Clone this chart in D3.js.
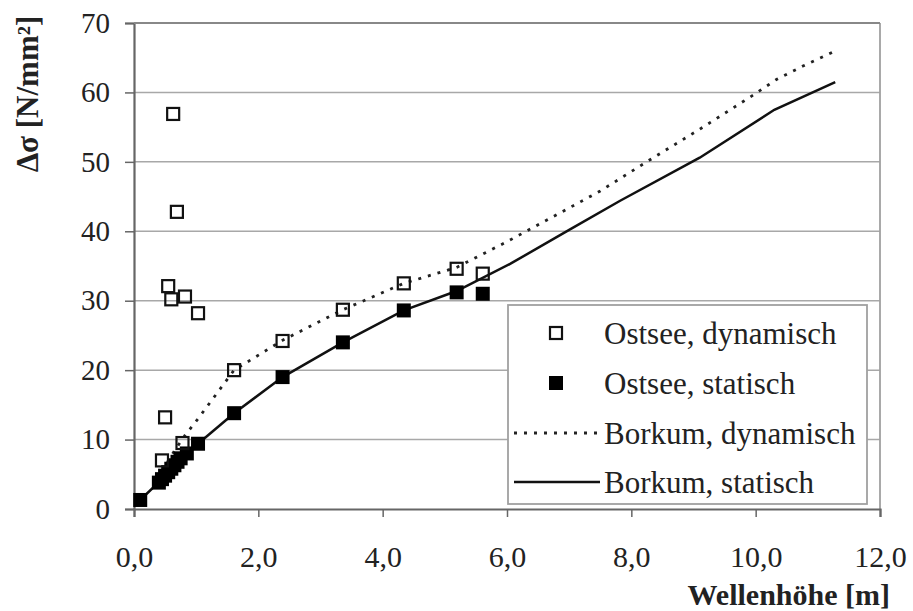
<!DOCTYPE html>
<html>
<head>
<meta charset="utf-8">
<script src="https://cdn.jsdelivr.net/npm/d3@7"></script>
<style>
  html, body { margin: 0; padding: 0; background: #fff; }
  svg { display: block; }
  text { font-family: "Liberation Serif", "Times New Roman", serif; fill: #222; }
</style>
</head>
<body>
<script>
// ---- data ----
const xTicks = [0, 2, 4, 6, 8, 10, 12];
const xTickLabels = ["0,0", "2,0", "4,0", "6,0", "8,0", "10,0", "12,0"];
const yTicks = [0, 10, 20, 30, 40, 50, 60, 70];
const yTickLabels = ["0", "10", "20", "30", "40", "50", "60", "70"];

const ostseeDynamisch = [
  [0.45, 7.0], [0.50, 13.2], [0.55, 32.1], [0.60, 30.2], [0.63, 56.9],
  [0.69, 42.8], [0.78, 9.5], [0.82, 30.6], [1.03, 28.2], [1.61, 20.0],
  [2.39, 24.2], [3.36, 28.7], [4.34, 32.5], [5.19, 34.6], [5.61, 33.9]
];
const ostseeStatisch = [
  [0.10, 1.3], [0.40, 3.8], [0.45, 4.3], [0.50, 4.8], [0.55, 5.3],
  [0.60, 5.8], [0.65, 6.3], [0.70, 6.8], [0.75, 7.3], [0.85, 8.0],
  [1.03, 9.4], [1.61, 13.8], [2.39, 19.0], [3.36, 24.0], [4.34, 28.6],
  [5.19, 31.2], [5.61, 31.0]
];
const borkumDynamisch = [
  [0.45, 5.5], [0.66, 8.5], [0.82, 10.6], [1.03, 13.0], [1.61, 20.0],
  [2.39, 24.3], [3.36, 28.7], [4.34, 32.5], [5.19, 34.8], [6.0, 38.5],
  [7.5, 45.8], [8.3, 50.3], [9.1, 54.7], [9.94, 59.5], [10.34, 61.9],
  [10.76, 63.8], [11.24, 65.8]
];
const borkumStatisch = [
  [0.10, 1.3], [0.45, 4.3], [0.75, 7.3], [1.03, 9.4], [1.61, 13.8],
  [2.39, 19.0], [3.36, 24.0], [4.34, 28.6], [5.19, 31.4], [6.05, 35.3],
  [7.0, 40.2], [7.82, 44.4], [9.1, 50.6], [10.3, 57.5], [11.28, 61.5]
];
const legendLabels = ["Ostsee, dynamisch", "Ostsee, statisch", "Borkum, dynamisch", "Borkum, statisch"];
const xTitle = "Wellenhöhe [m]";
const yTitle = "Δσ [N/mm²]";

// ---- layout ----
const W = 913, H = 611;
const L = 134, R = 880, T = 23, B = 509;

const svg = d3.select("body").append("svg").attr("width", W).attr("height", H);

const x = d3.scaleLinear().domain([0, 12]).range([L, R]);
const y = d3.scaleLinear().domain([0, 70]).range([B, T]);

// gridlines
svg.append("g").selectAll("line").data(yTicks.filter(d => d > 0)).join("line")
  .attr("x1", L).attr("x2", R)
  .attr("y1", d => y(d)).attr("y2", d => y(d))
  .attr("stroke", "#a8a8a8").attr("stroke-width", 1.5);

// right border
svg.append("line").attr("x1", R).attr("x2", R).attr("y1", T).attr("y2", B)
  .attr("stroke", "#a0a0a0").attr("stroke-width", 1.8);

// axes
const xAxis = d3.axisBottom(x).tickValues(xTicks)
  .tickFormat((d, i) => xTickLabels[i]).tickSize(8).tickPadding(29);
const gx = svg.append("g").attr("transform", `translate(0,${B})`).call(xAxis);
gx.select(".domain").attr("stroke", "#666").attr("stroke-width", 2.2);
gx.selectAll(".tick line").attr("stroke", "#666").attr("stroke-width", 1.5);
gx.selectAll(".tick text").attr("font-size", 30).attr("fill", "#333")
  .attr("font-family", "Liberation Serif, serif");

const yAxis = d3.axisLeft(y).tickValues(yTicks)
  .tickFormat((d, i) => yTickLabels[i]).tickSize(9).tickPadding(15);
const gy = svg.append("g").attr("transform", `translate(${L},0)`).call(yAxis);
gy.select(".domain").attr("stroke", "#666").attr("stroke-width", 2.2);
gy.selectAll(".tick line").attr("stroke", "#666").attr("stroke-width", 1.5);
gy.selectAll(".tick text").attr("font-size", 29).attr("fill", "#333")
  .attr("font-family", "Liberation Serif, serif");

// top border
svg.append("line").attr("x1", L).attr("x2", R).attr("y1", T).attr("y2", T)
  .attr("stroke", "#888").attr("stroke-width", 1.8);

// lines
const line = d3.line().x(d => x(d[0])).y(d => y(d[1]));
svg.append("path").datum(borkumDynamisch).attr("d", line)
  .attr("fill", "none").attr("stroke", "#222").attr("stroke-width", 2.8)
  .attr("stroke-dasharray", "3,7");
svg.append("path").datum(borkumStatisch).attr("d", line)
  .attr("fill", "none").attr("stroke", "#111").attr("stroke-width", 2.5);

// markers
const S = 12;
svg.append("g").selectAll("rect").data(ostseeStatisch).join("rect")
  .attr("x", d => x(d[0]) - 7).attr("y", d => y(d[1]) - 7)
  .attr("width", 14).attr("height", 14).attr("fill", "#000");
svg.append("g").selectAll("rect").data(ostseeDynamisch).join("rect")
  .attr("x", d => x(d[0]) - S / 2).attr("y", d => y(d[1]) - S / 2)
  .attr("width", S).attr("height", S).attr("fill", "none")
  .attr("stroke", "#111").attr("stroke-width", 2.2);

// legend
const lg = svg.append("g");
lg.append("rect").attr("x", 508).attr("y", 305).attr("width", 359).attr("height", 199)
  .attr("fill", "#fff").attr("stroke", "#a0a0a0").attr("stroke-width", 1.8);
const rowY = [333, 383, 433, 482];
lg.append("rect").attr("x", 556 - S / 2).attr("y", rowY[0] - S / 2).attr("width", S).attr("height", S)
  .attr("fill", "none").attr("stroke", "#111").attr("stroke-width", 2.2);
lg.append("rect").attr("x", 556 - 7).attr("y", rowY[1] - 7).attr("width", 14).attr("height", 14)
  .attr("fill", "#000");
lg.append("line").attr("x1", 514).attr("x2", 600).attr("y1", rowY[2]).attr("y2", rowY[2])
  .attr("stroke", "#222").attr("stroke-width", 2.8).attr("stroke-dasharray", "3,7");
lg.append("line").attr("x1", 514).attr("x2", 600).attr("y1", rowY[3]).attr("y2", rowY[3])
  .attr("stroke", "#111").attr("stroke-width", 2.5);
lg.selectAll("text.lbl").data(legendLabels).join("text").attr("class", "lbl")
  .attr("x", 604).attr("y", (d, i) => rowY[i]).attr("dy", "0.35em")
  .attr("font-size", 31).text(d => d);

// axis titles
svg.append("text").attr("x", 890).attr("y", 605).attr("text-anchor", "end")
  .attr("font-size", 30).attr("font-weight", "bold").attr("fill", "#111").text(xTitle);
svg.append("text").attr("transform", "translate(38,94) rotate(-90)")
  .attr("text-anchor", "middle").attr("font-size", 31).attr("font-weight", "bold")
  .attr("fill", "#111").text(yTitle);
</script>
</body>
</html>
